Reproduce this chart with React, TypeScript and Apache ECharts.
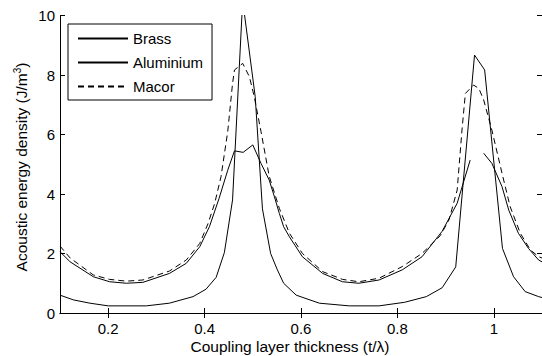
import React, { useEffect, useRef } from "react";
import * as echarts from "echarts";

const FONT = "'Liberation Sans', Arial, Helvetica, sans-serif";

const xTicks = [0.2, 0.4, 0.6, 0.8, 1.0];
const yTicks = [0, 2, 4, 6, 8, 10];

const brassT = [0.100, 0.128, 0.162, 0.200, 0.279, 0.327, 0.376, 0.403, 0.424, 0.441, 0.458, 0.479, 0.505, 0.520, 0.537, 0.551, 0.564, 0.590, 0.638, 0.700, 0.762, 0.815, 0.860, 0.893, 0.921, 0.960, 0.981, 1.018, 1.041, 1.065, 1.093, 1.100];
const brassV = [0.60, 0.44, 0.33, 0.24, 0.24, 0.33, 0.55, 0.80, 1.20, 2.03, 3.80, 10.5, 7.27, 3.50, 2.00, 1.45, 1.00, 0.60, 0.33, 0.24, 0.24, 0.36, 0.55, 0.85, 1.55, 8.67, 8.17, 2.17, 1.22, 0.72, 0.55, 0.52];

const aluT = [0.100, 0.121, 0.169, 0.203, 0.238, 0.272, 0.327, 0.362, 0.390, 0.410, 0.430, 0.448, 0.462, 0.480, 0.500, 0.517, 0.534, 0.545, 0.555, 0.564, 0.576, 0.603, 0.645, 0.686, 0.720, 0.762, 0.810, 0.851, 0.893, 0.924, 0.951, 0.965, 0.979, 0.996, 1.017, 1.031, 1.051, 1.072, 1.093, 1.100];
const aluV = [2.06, 1.72, 1.22, 1.05, 1.00, 1.03, 1.33, 1.67, 2.23, 2.90, 3.85, 4.80, 5.45, 5.40, 5.65, 5.03, 4.47, 3.90, 3.35, 2.90, 2.56, 1.89, 1.33, 1.05, 1.00, 1.11, 1.45, 1.89, 2.75, 3.69, 5.14, null, 5.37, 5.03, 4.25, 3.46, 2.68, 2.17, 1.78, 1.72];

const macT = [0.100, 0.121, 0.169, 0.203, 0.238, 0.272, 0.327, 0.362, 0.390, 0.407, 0.421, 0.434, 0.448, 0.458, 0.462, 0.479, 0.493, 0.503, 0.517, 0.534, 0.555, 0.576, 0.603, 0.645, 0.686, 0.720, 0.762, 0.810, 0.851, 0.889, 0.907, 0.924, 0.934, 0.941, 0.958, 0.969, 0.979, 0.996, 1.017, 1.034, 1.055, 1.076, 1.093, 1.100];
const macV = [2.25, 1.85, 1.28, 1.13, 1.07, 1.11, 1.41, 1.78, 2.34, 3.00, 3.69, 4.58, 6.10, 7.72, 8.17, 8.39, 7.94, 7.27, 6.10, 4.60, 3.52, 2.68, 2.00, 1.39, 1.13, 1.05, 1.17, 1.56, 2.00, 2.60, 3.13, 4.13, 6.15, 7.38, 7.66, 7.55, 7.16, 6.15, 4.70, 3.57, 2.68, 2.12, 1.89, 1.85];

const pairs = (t: number[], v: (number | null)[]) => t.map((x, i) => [x, v[i]]);

export default function App() {
  const ref = useRef<HTMLDivElement>(null);
  useEffect(() => {
    document.body.style.margin = "0";
    const chart = echarts.init(ref.current!, null, { renderer: "svg" });
    const axisLine = { show: true, lineStyle: { color: "#000", width: 1 } };
    const tick = { show: true, inside: true, length: 5, lineStyle: { color: "#000", width: 1 } };
    const lineBase = { type: "line", showSymbol: false, symbol: "none", clip: true, xAxisIndex: 0, yAxisIndex: 0 };
    chart.setOption({
      animation: false,
      backgroundColor: "#fff",
      textStyle: { fontFamily: FONT },
      grid: { left: 60, top: 15.5, width: 484.5, height: 297.5 },
      xAxis: [
        {
          type: "value", min: 0.1, max: 1.1, position: "bottom",
          axisLine, axisTick: { ...tick, customValues: xTicks },
          axisLabel: { customValues: xTicks, color: "#000", fontSize: 15, fontFamily: FONT, margin: 8 },
          splitLine: { show: false },
        },
        {
          type: "value", min: 0.1, max: 1.1, position: "top",
          axisLine, axisTick: { ...tick, customValues: xTicks },
          axisLabel: { show: false }, splitLine: { show: false },
        },
      ],
      yAxis: [
        {
          type: "value", min: 0, max: 10, interval: 2, position: "left",
          axisLine, axisTick: tick,
          axisLabel: { color: "#000", fontSize: 15, fontFamily: FONT, margin: 5 },
          splitLine: { show: false },
        },
        {
          type: "value", min: 0, max: 10, interval: 2, position: "right",
          axisLine, axisTick: tick, axisLabel: { show: false }, splitLine: { show: false },
        },
      ],
      legend: {
        orient: "vertical", left: 68, top: 24,
        itemWidth: 50, itemHeight: 14, itemGap: 9,
        padding: [7, 9, 6, 9],
        borderColor: "#000", borderWidth: 1, borderRadius: 0, backgroundColor: "#fff",
        selectedMode: false,
        itemStyle: { color: "rgba(0,0,0,0)", borderColor: "rgba(0,0,0,0)", borderWidth: 0 },
        textStyle: { fontSize: 15, color: "#000", fontFamily: FONT },
        data: ["Brass", "Aluminium", "Macor"],
      },
      series: [
        { ...lineBase, name: "Brass", data: pairs(brassT, brassV), lineStyle: { color: "#000", width: 1 }, itemStyle: { color: "#000" } },
        { ...lineBase, name: "Aluminium", data: pairs(aluT, aluV), lineStyle: { color: "#000", width: 1 }, itemStyle: { color: "#000" } },
        { ...lineBase, name: "Macor", data: pairs(macT, macV), lineStyle: { color: "#000", width: 1, type: [6, 4] }, itemStyle: { color: "#000" } },
      ],
      graphic: [
        {
          type: "text", x: 21, y: 167, rotation: Math.PI / 2,
          style: {
            text: "{a|Acoustic energy density (J/m}{s|3}{a|)}",
            align: "center", verticalAlign: "middle",
            rich: {
              a: { fontSize: 15.5, fontFamily: FONT, fill: "#000" },
              s: { fontSize: 10, fontFamily: FONT, fill: "#000", verticalAlign: "top", padding: [0, 0, 7, 0] },
            },
          },
        },
        {
          type: "text", x: 290, y: 346,
          style: { text: "Coupling layer thickness (t/λ)", fontSize: 15.5, fontFamily: FONT, fill: "#000", align: "center", verticalAlign: "middle" },
        },
      ],
    });
    return () => chart.dispose();
  }, []);
  return <div ref={ref} style={{ width: 542, height: 356 }} />;
}
